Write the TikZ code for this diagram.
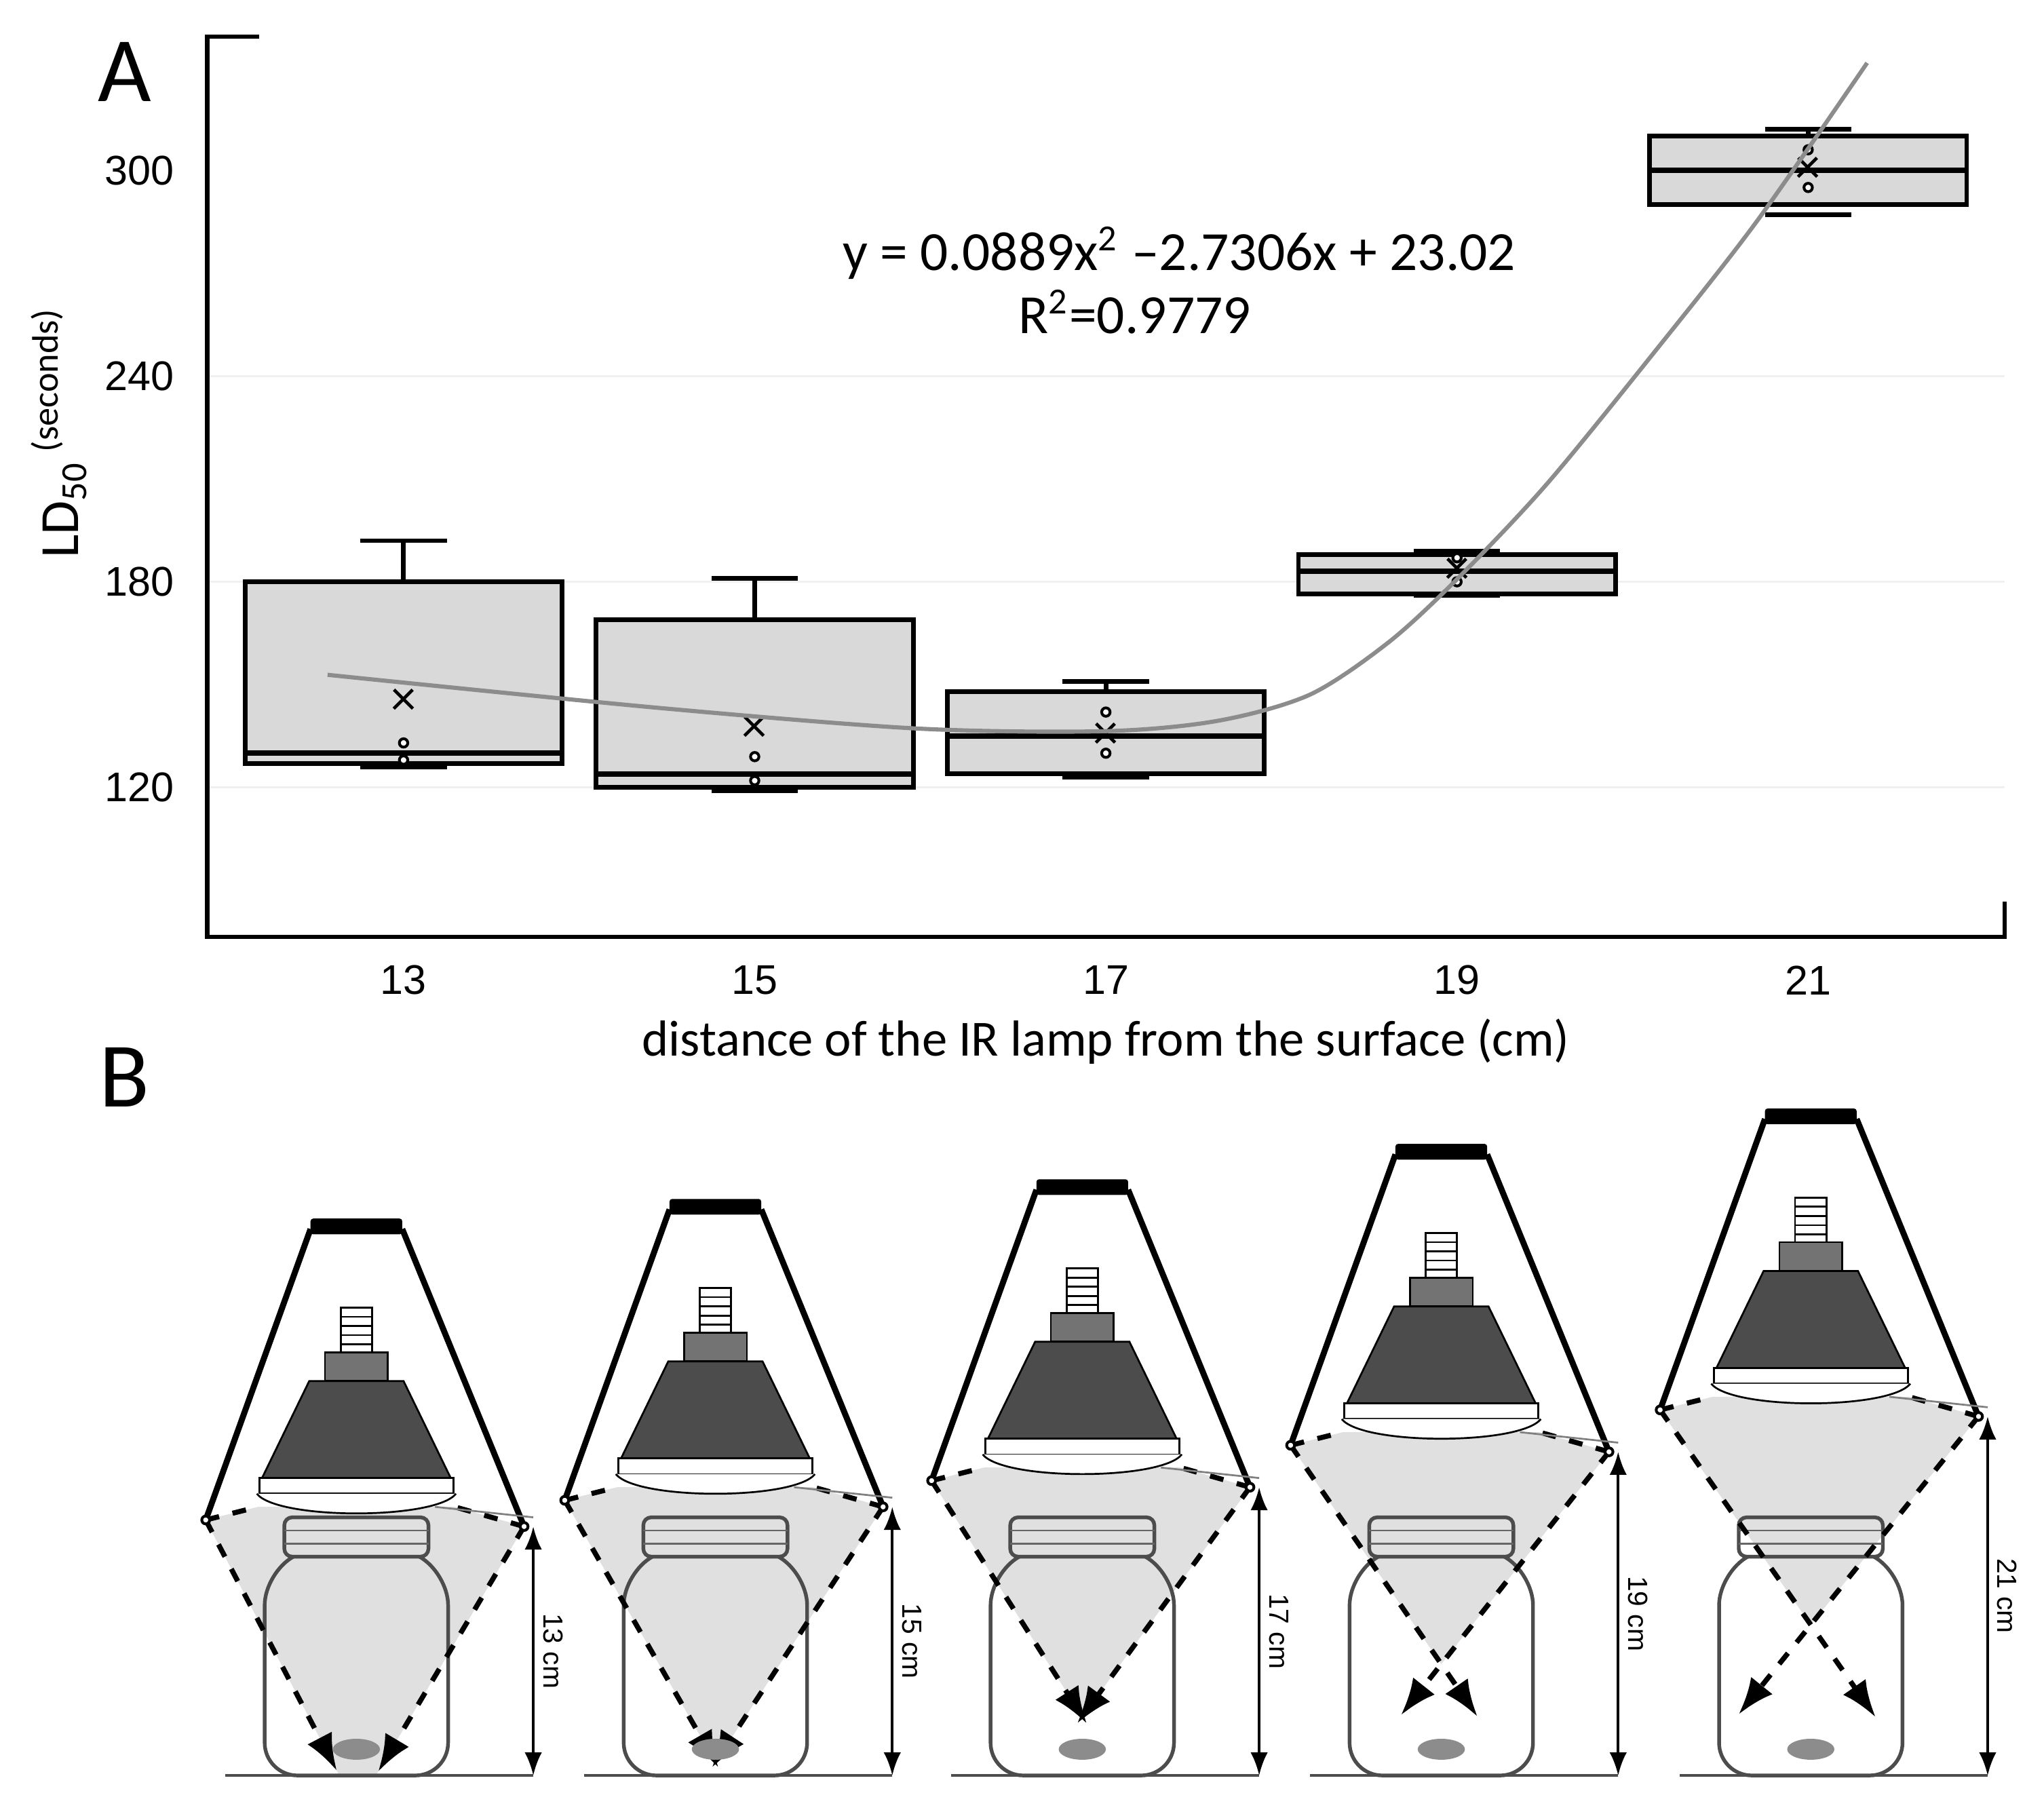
\documentclass[tikz,border=0pt]{standalone}
\usepackage{fontspec}
\setmainfont{Carlito}
\newfontfamily\tickfont{Liberation Sans}
\usetikzlibrary{calc,arrows.meta}

\tikzset{
  box/.style={draw=black, fill=black!15, line width=1pt},
  pt/.style={draw=black, fill=white, line width=0.6pt},
  jar/.style={draw=black!70, line width=0.8pt},
  beam/.style={fill=black!12},
  ray/.style={dashed, line width=1.1pt},
  dim/.style={line width=0.6pt, {Latex[length=5pt]}-{Latex[length=5pt]}},
  tick/.style={font=\tickfont\fontsize{9}{11}\selectfont},
}

% one lamp above one jar: centre x, rim y, crossing y, distance, ray length
\newcommand\lampsetup[5]{
  \begin{scope}[shift={(#1,0)}]
    % light cone
    \coordinate (l) at (-115,#2+10);
    \coordinate (r) at (128,#2+15);
    \coordinate (c) at (0,#3);
    \begin{scope}
      \clip (-200,0) rectangle (200,1355);
      \fill[beam] (l) -- (-75,#2) -- (75,#2) -- (r) -- (c) -- cycle;
    \end{scope}
    % jar
    \draw[jar, rounded corners=2.5mm] (-48,1188) -- (-70,1200) -- (-70,1355) -- (70,1355) -- (70,1200) -- (48,1188);
    \draw[jar, rounded corners=0.6mm] (-55,1158) rectangle (55,1188);
    \draw[black!60] (-55,1168) -- (55,1168) (-55,1178) -- (55,1178);
    % rays
    \draw[ray] (l) -- (-75,#2);
    \draw[ray] (r) -- (75,#2);
    \draw[ray, -{Latex[length=8pt]}] (l) -- ($(l)!#5!(c)$);
    \draw[ray, -{Latex[length=8pt]}] (r) -- ($(r)!#5!(c)$);
    % shade
    \fill[rounded corners=0.2mm] (-35,#2-220) rectangle (35,#2-208);
    \draw[line width=1.3pt] (-35,#2-212) -- (l);
    \draw[line width=1.3pt] (35,#2-212) -- (r);
    \draw[pt] (l) circle (3);
    \draw[pt] (r) circle (3);
    % bulb
    \draw[fill=white] (-12,#2-152) rectangle (12,#2-118);
    \foreach \s in {-145,-138,-131,-124} \draw (-12,#2+\s) -- (12,#2+\s);
    \draw[fill=black!55] (-24,#2-118) rectangle (24,#2-96);
    \draw[fill=black!70] (-36,#2-96) -- (36,#2-96) -- (72,#2-22) -- (-72,#2-22) -- cycle;
    \draw[fill=white] (-74,#2-22) rectangle (74,#2-10);
    \draw[fill=white] (-76,#2-10) .. controls (-60,#2+10) and (60,#2+10) .. (76,#2-10);
    % beetle
    \fill[black!45] (0,1335) ellipse (18 and 8);
    % dimension
    \draw[black!50] (60,#2) -- (135,#2+8);
    \draw[black!70, line width=0.7pt] (-100,1355) -- (135,1355);
    \draw[dim] (135,#2+15) -- (135,1355);
    \node[font=\tickfont\fontsize{6}{7}\selectfont, rotate=-90] (d#4) at (150,{(#2+1370)/2}) {#4 cm};
  \end{scope}
}

\begin{document}
\begin{tikzpicture}[x=0.1mm, y=-0.1mm,
  declare function={yv(\v)=601-(\v-120)*2.6167;}]
\useasboundingbox (0,0) rectangle (1560,1381);

% Panel A
\node[font=\fontsize{20}{22}\selectfont] (A) at (95,55) {A};
\foreach \v in {120,180,240} \draw[black!6] (158,{yv(\v)}) -- (1530,{yv(\v)});
\draw[line width=1pt] (198,28) -- (158,28) -- (158,715) -- (1530,715) -- (1530,688);
\foreach \v in {120,180,240,300}
  \node[tick, anchor=east] (y\v) at (145,{yv(\v)}) {\v};
\foreach \d [count=\i from 0] in {13,15,17,19,21}
  \node[tick] (x\d) at (308+268*\i,748) {\d};
\node[font=\fontsize{11}{13}\selectfont] (xlab) at (844,795) {distance of the IR lamp from the surface (cm)};
\node[rotate=90, font=\fontsize{12}{14}\selectfont] (ylab) at (45,330) {LD\textsubscript{50}\,\textsuperscript{(seconds)}};

% Boxes
\foreach \cx/\wl/\qa/\me/\qb/\wh/\mn/\pa/\pb in
  {308/126/127/130/180/192/145/133/128,
   576/119/120/124/169/181/137/129/122,
   844/123/124/135/148/151/135/142/130,
   1112/176/176.5/183/188/189/183/187/180,
   1380/287/290/300/310/312/300/306/295}{
  \draw[line width=1pt] (\cx,{yv(\qb)}) -- (\cx,{yv(\wh)});
  \draw[line width=1pt] (\cx-33,{yv(\wh)}) -- (\cx+33,{yv(\wh)});
  \draw[line width=1pt] (\cx-33,{yv(\wl)}) -- (\cx+33,{yv(\wl)});
  \draw[box] (\cx-121,{yv(\qa)}) rectangle (\cx+121,{yv(\qb)});
  \draw[line width=1.2pt] (\cx-121,{yv(\me)}) -- (\cx+121,{yv(\me)});
  \node[font=\fontsize{11}{12}\selectfont, inner sep=0] (m\cx) at (\cx,{yv(\mn)}) {×};
  \draw[pt] (\cx,{yv(\pa)}) circle (3.2);
  \draw[pt] (\cx,{yv(\pb)}) circle (3.2);
}

% Trend line
\draw[black!45, line width=0.9pt] plot[smooth, tension=0.5] coordinates
  {(250,515) (500,540) (700,556) (844,558) (930,550) (1000,530) (1060,490)
   (1112,442) (1180,370) (1260,272) (1340,170) (1425,48)};
\node[font=\fontsize{12}{14}\selectfont] (eq) at (900,193) {y = 0.0889x\textsuperscript{2} –2.7306x + 23.02};
\node[font=\fontsize{12}{14}\selectfont] (r2) at (866,238) {R\textsuperscript{2}=0.9779};

% Panel B
\node[font=\fontsize{20}{22}\selectfont] (B) at (95,822) {B};
\lampsetup{272}{1150}{1380}{13}{0.87}
\lampsetup{546}{1135}{1345}{15}{1.02}
\lampsetup{826}{1120}{1310}{17}{1.03}
\lampsetup{1100}{1093}{1270}{19}{1.24}
\lampsetup{1382}{1066}{1240}{21}{1.43}
\end{tikzpicture}
\end{document}
